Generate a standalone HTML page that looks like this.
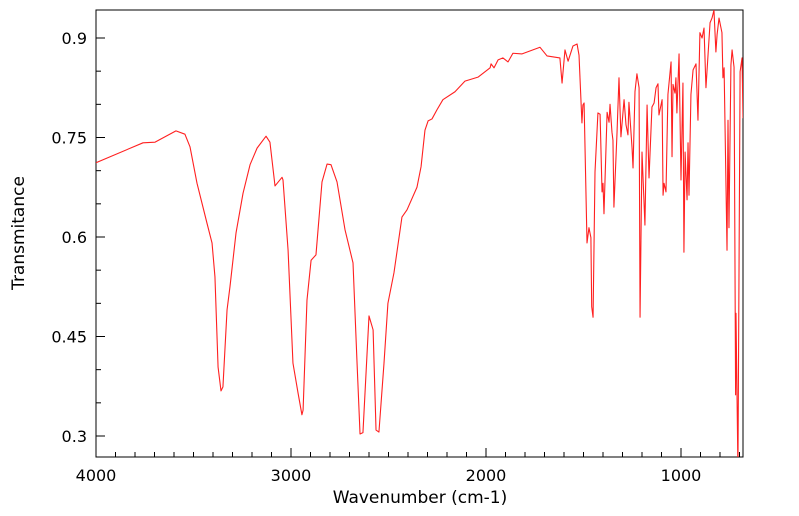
<!DOCTYPE html>
<html><head><meta charset="utf-8"><style>
html,body{margin:0;padding:0;background:#fff;}
svg{display:block;font-family:"DejaVu Sans","Liberation Sans",sans-serif;}
</style></head><body>
<svg id="chart" width="799" height="516" viewBox="0 0 799 516" xmlns="http://www.w3.org/2000/svg">
<defs><clipPath id="plotclip"><rect x="96" y="10" width="647" height="447"/></clipPath></defs>
<rect x="96" y="10" width="647" height="447" fill="#fff" stroke="#000" stroke-width="1"/>
<g id="ticks"></g>
<g id="xlabels"></g>
<g id="ylabels"></g>
<path id="spectrum" clip-path="url(#plotclip)" fill="none" stroke="#ff2020" stroke-width="1.1" stroke-linejoin="round"/>
<text x="420" y="503" font-size="17" text-anchor="middle">Wavenumber (cm-1)</text>
<text x="24" y="233" font-size="17" text-anchor="middle" transform="rotate(-90 24 233)">Transmitance</text>
</svg>
<script>
const wavenumbers = [4000,3759,3697,3590,3544,3518,3482,3431,3405,3390,3374,3359,3349,3328,3313,3282,3246,3210,3174,3128,3108,3082,3046,3041,3015,2990,2964,2944,2938,2918,2897,2872,2841,2815,2795,2764,2723,2682,2662,2646,2631,2600,2579,2564,2549,2523,2503,2472,2431,2405,2354,2333,2313,2297,2277,2251,2221,2159,2108,2041,1979,1974,1959,1938,1913,1887,1862,1815,1723,1687,1621,1610,1595,1579,1554,1533,1523,1508,1503,1497,1482,1472,1462,1458,1451,1441,1426,1415,1405,1400,1395,1379,1369,1364,1354,1349,1344,1328,1318,1308,1292,1282,1272,1267,1251,1246,1236,1226,1215,1210,1200,1185,1174,1164,1149,1138,1128,1118,1113,1097,1092,1087,1077,1067,1051,1046,1041,1031,1026,1021,1010,1000,990,985,979,969,964,959,949,938,923,913,903,892,882,872,851,841,831,821,815,805,790,785,779,764,759,754,744,738,728,720,718,708,697,687,682];
const transmittance = [0.712,0.742,0.743,0.760,0.755,0.736,0.681,0.621,0.591,0.540,0.404,0.368,0.374,0.490,0.525,0.606,0.666,0.709,0.734,0.752,0.743,0.677,0.690,0.686,0.580,0.410,0.365,0.332,0.339,0.505,0.565,0.573,0.683,0.710,0.709,0.683,0.611,0.561,0.415,0.303,0.305,0.481,0.460,0.309,0.306,0.410,0.500,0.546,0.630,0.641,0.675,0.706,0.761,0.775,0.778,0.792,0.807,0.819,0.835,0.841,0.855,0.861,0.855,0.867,0.870,0.864,0.877,0.876,0.886,0.873,0.870,0.832,0.882,0.865,0.888,0.891,0.874,0.772,0.799,0.802,0.591,0.614,0.599,0.495,0.479,0.698,0.787,0.785,0.668,0.681,0.635,0.788,0.773,0.800,0.758,0.746,0.645,0.758,0.840,0.751,0.807,0.769,0.754,0.803,0.734,0.704,0.819,0.846,0.825,0.479,0.728,0.618,0.799,0.689,0.796,0.802,0.825,0.831,0.784,0.807,0.663,0.681,0.668,0.815,0.864,0.721,0.830,0.817,0.840,0.787,0.876,0.686,0.832,0.577,0.728,0.656,0.742,0.663,0.815,0.852,0.861,0.776,0.908,0.900,0.915,0.825,0.923,0.930,0.942,0.879,0.905,0.930,0.908,0.840,0.855,0.580,0.776,0.614,0.859,0.882,0.856,0.362,0.485,0.250,0.849,0.870,0.779];
const xTickValues = [4000,3000,2000,1000];
const xTickLabels = ["4000","3000","2000","1000"];
const yTickValues = [0.3,0.45,0.6,0.75,0.9];
const yTickLabels = ["0.3","0.45","0.6","0.75","0.9"];

const X0=96, X1=743, Y0=10, Y1=457;
const xScale = w => 96 + (4000 - w) * 0.195;
const yScale = t => 38 + (0.9 - t) / 0.15 * 99.5;
const NS='http://www.w3.org/2000/svg';

let d='';
for(let i=0;i<wavenumbers.length;i++){
  d += (i?'L':'M') + xScale(wavenumbers[i]).toFixed(2) + ' ' + yScale(transmittance[i]).toFixed(2);
}
document.getElementById('spectrum').setAttribute('d', d);

const ticks=document.getElementById('ticks');
function line(x1,y1,x2,y2){
  const l=document.createElementNS(NS,'line');
  l.setAttribute('x1',x1);l.setAttribute('y1',y1);l.setAttribute('x2',x2);l.setAttribute('y2',y2);
  l.setAttribute('stroke','#000');l.setAttribute('stroke-width','1');
  
  
  ticks.appendChild(l);
}
for(let w=700; w<=4000; w+=100){
  const x=xScale(w); if(x<X0-0.5||x>X1+0.5) continue;
  const major = w%1000===0;
  line(x,Y1,x,Y1-(major?9:5));
}
for(let k=0;k<=13;k++){
  const t=0.25+0.05*k; const y=yScale(t); if(y<Y0||y>Y1) continue;
  const major = Math.abs(((t-0.3)/0.15)-Math.round((t-0.3)/0.15))<1e-6;
  line(X0,y,X0+(major?9:5),y);
}
const xl=document.getElementById('xlabels');
xTickValues.forEach((v,i)=>{
  const t=document.createElementNS(NS,'text');
  t.setAttribute('x',xScale(v));t.setAttribute('y',481);
  t.setAttribute('font-size','16');t.setAttribute('text-anchor','middle');
  
  
  t.textContent=xTickLabels[i]; xl.appendChild(t);
});
const yl=document.getElementById('ylabels');
yTickValues.forEach((v,i)=>{
  const t=document.createElementNS(NS,'text');
  t.setAttribute('x',87);t.setAttribute('y',yScale(v)+6);
  t.setAttribute('font-size','16');t.setAttribute('text-anchor','end');
  
  
  t.textContent=yTickLabels[i]; yl.appendChild(t);
});
</script>
</body></html>
